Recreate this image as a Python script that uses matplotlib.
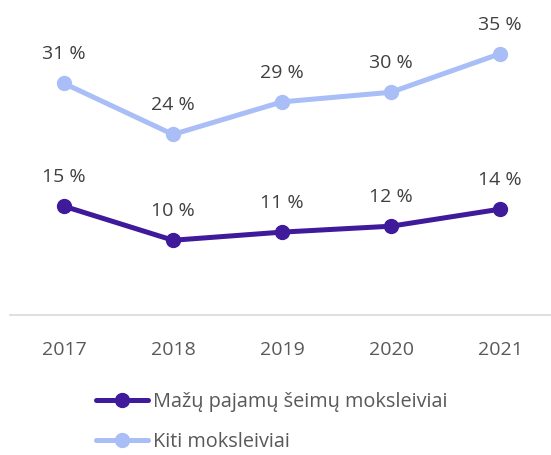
import matplotlib
matplotlib.use("Agg")
import matplotlib.pyplot as plt

years = ["2017", "2018", "2019", "2020", "2021"]
low_income = [14.7, 10.1, 11.2, 12.0, 14.3]
others = [31.3, 24.4, 28.8, 30.1, 35.3]
series_names = ["Mažų pajamų šeimų moksleiviai", "Kiti moksleiviai"]

DARK = "#3f1a9b"
LIGHT = "#a9bdf6"
TEXT = "#595959"
LABEL = "#404040"

plt.rcParams["font.family"] = ["Open Sans", "DejaVu Sans"]

fig = plt.figure(figsize=(5.51, 4.55), dpi=100)
ax = fig.add_axes([9.5 / 551, 1 - 315 / 455, 545 / 551, (315 - 19) / 455])

x = list(range(len(years)))
for vals, color, name in [(low_income, DARK, series_names[0]), (others, LIGHT, series_names[1])]:
    ax.plot(x, vals, color=color, lw=3.6, marker="o", ms=10, label=name, solid_capstyle="round")
    for xi, v in zip(x, vals):
        ax.annotate(f"{round(v)} %", (xi, v), xytext=(0, 14.5), textcoords="offset points",
                    ha="center", va="bottom", fontsize=14, color=LABEL)

ax.set_xlim(-0.5, 4.5)
ax.set_ylim(0, 40)
ax.set_xticks(x)
ax.set_xticklabels(years)
ax.set_yticks([])
ax.tick_params(axis="x", length=0, pad=18.5, labelsize=14, labelcolor=TEXT)
for side in ["top", "right", "left"]:
    ax.spines[side].set_visible(False)
ax.spines["bottom"].set_color("#d9d9d9")
ax.spines["bottom"].set_linewidth(1.2)
ax.patch.set_visible(False)

handles, labels = ax.get_legend_handles_labels()
fig.legend(handles, labels, loc="upper left", bbox_to_anchor=(96 / 551, 1 - 392 / 455),
           frameon=False, fontsize=14.3, handlelength=2.6, handletextpad=0.25,
           labelspacing=1.0, borderpad=0, borderaxespad=0, labelcolor=TEXT)

fig.savefig("out.png", dpi=100)
